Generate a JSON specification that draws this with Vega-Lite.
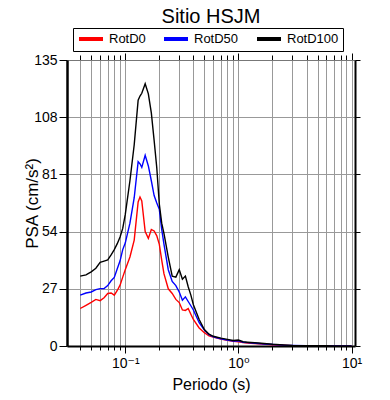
{
  "$schema": "https://vega.github.io/schema/vega-lite/v6.json",
  "width": 288,
  "height": 286,
  "autosize": "none",
  "padding": {"left": 67, "top": 60, "right": 35, "bottom": 54},
  "background": "white",
  "title": {"text": "Sitio HSJM", "fontSize": 20, "font": "Liberation Sans", "fontWeight": "normal", "color": "black", "anchor": "middle", "frame": "group", "offset": 1},
  "config": {"view": {"stroke": null}, "font": "Liberation Sans"},
  "data": {"values": [
    {"T": 0.04, "RotD0": 17.7, "RotD50": 24, "RotD100": 33},
    {"T": 0.045, "RotD0": 19.2, "RotD50": 25, "RotD100": 33.6},
    {"T": 0.05, "RotD0": 20.6, "RotD50": 25.5, "RotD100": 35},
    {"T": 0.055, "RotD0": 22, "RotD50": 26.6, "RotD100": 36.7},
    {"T": 0.06, "RotD0": 21.4, "RotD50": 27.1, "RotD100": 39.5},
    {"T": 0.065, "RotD0": 22.8, "RotD50": 27.1, "RotD100": 40.1},
    {"T": 0.07, "RotD0": 24.8, "RotD50": 28.5, "RotD100": 40.6},
    {"T": 0.075, "RotD0": 25, "RotD50": 30.8, "RotD100": 43},
    {"T": 0.08, "RotD0": 24, "RotD50": 32.4, "RotD100": 45.5},
    {"T": 0.085, "RotD0": 26.2, "RotD50": 36.5, "RotD100": 48.3},
    {"T": 0.09, "RotD0": 28.7, "RotD50": 40.2, "RotD100": 51.5},
    {"T": 0.095, "RotD0": 32.5, "RotD50": 45.5, "RotD100": 55.5},
    {"T": 0.1, "RotD0": 36, "RotD50": 48.6, "RotD100": 62},
    {"T": 0.11, "RotD0": 42, "RotD50": 58, "RotD100": 78},
    {"T": 0.12, "RotD0": 50, "RotD50": 70, "RotD100": 95},
    {"T": 0.13, "RotD0": 68, "RotD50": 87, "RotD100": 116},
    {"T": 0.135, "RotD0": 70.3, "RotD50": 86, "RotD100": 118},
    {"T": 0.14, "RotD0": 68.5, "RotD50": 84.3, "RotD100": 119.3},
    {"T": 0.15, "RotD0": 54, "RotD50": 90, "RotD100": 123.8},
    {"T": 0.16, "RotD0": 50.8, "RotD50": 85, "RotD100": 119},
    {"T": 0.17, "RotD0": 55, "RotD50": 78, "RotD100": 110},
    {"T": 0.18, "RotD0": 54.3, "RotD50": 71, "RotD100": 97},
    {"T": 0.19, "RotD0": 52, "RotD50": 67.5, "RotD100": 84},
    {"T": 0.2, "RotD0": 48, "RotD50": 64.5, "RotD100": 67},
    {"T": 0.21, "RotD0": 40.5, "RotD50": 55, "RotD100": 58},
    {"T": 0.22, "RotD0": 34, "RotD50": 48, "RotD100": 53},
    {"T": 0.24, "RotD0": 27, "RotD50": 36, "RotD100": 42},
    {"T": 0.26, "RotD0": 24.8, "RotD50": 30.5, "RotD100": 33},
    {"T": 0.28, "RotD0": 22, "RotD50": 28.5, "RotD100": 32.5},
    {"T": 0.3, "RotD0": 20.5, "RotD50": 25.5, "RotD100": 36},
    {"T": 0.32, "RotD0": 17, "RotD50": 21.6, "RotD100": 31.5},
    {"T": 0.34, "RotD0": 16.8, "RotD50": 23.2, "RotD100": 33},
    {"T": 0.36, "RotD0": 17.7, "RotD50": 21, "RotD100": 28},
    {"T": 0.38, "RotD0": 15, "RotD50": 19, "RotD100": 24},
    {"T": 0.4, "RotD0": 12.5, "RotD50": 17, "RotD100": 19.5},
    {"T": 0.45, "RotD0": 8.5, "RotD50": 11, "RotD100": 12.5},
    {"T": 0.5, "RotD0": 6.3, "RotD50": 7.5, "RotD100": 7.8},
    {"T": 0.55, "RotD0": 4.8, "RotD50": 5.3, "RotD100": 5.6},
    {"T": 0.6, "RotD0": 4.2, "RotD50": 4.3, "RotD100": 4.6},
    {"T": 0.7, "RotD0": 3.3, "RotD50": 3.4, "RotD100": 3.7},
    {"T": 0.8, "RotD0": 2.7, "RotD50": 2.8, "RotD100": 3.1},
    {"T": 0.9, "RotD0": 2.2, "RotD50": 2.3, "RotD100": 2.6},
    {"T": 1.0, "RotD0": 2.0, "RotD50": 2.4, "RotD100": 2.8},
    {"T": 1.1, "RotD0": 1.6, "RotD50": 1.8, "RotD100": 2.0},
    {"T": 1.2, "RotD0": 1.4, "RotD50": 1.6, "RotD100": 1.8},
    {"T": 1.5, "RotD0": 1.0, "RotD50": 1.2, "RotD100": 1.4},
    {"T": 2, "RotD0": 0.6, "RotD50": 0.7, "RotD100": 0.8},
    {"T": 2.5, "RotD0": 0.35, "RotD50": 0.4, "RotD100": 0.5},
    {"T": 3, "RotD0": 0.2, "RotD50": 0.25, "RotD100": 0.3},
    {"T": 4, "RotD0": 0.12, "RotD50": 0.15, "RotD100": 0.2},
    {"T": 5, "RotD0": 0.08, "RotD50": 0.1, "RotD100": 0.12},
    {"T": 6, "RotD0": 0.06, "RotD50": 0.08, "RotD100": 0.1},
    {"T": 7, "RotD0": 0.05, "RotD50": 0.06, "RotD100": 0.08},
    {"T": 8, "RotD0": 0.04, "RotD50": 0.05, "RotD100": 0.06},
    {"T": 10, "RotD0": 0.03, "RotD50": 0.04, "RotD100": 0.05}
  ]},
  "layer": [
    {
      "transform": [{"fold": ["RotD0", "RotD50", "RotD100"], "as": ["serie", "PSA"]}],
      "mark": {"type": "line", "strokeWidth": 1.4, "clip": true},
      "encoding": {
        "x": {
          "field": "T", "type": "quantitative",
          "scale": {"type": "log", "domain": [0.03057, 10.72], "nice": false},
          "axis": {
            "orient": "bottom",
            "values": [0.04, 0.05, 0.06, 0.07, 0.08, 0.09, 0.1, 0.2, 0.3, 0.4, 0.5, 0.6, 0.7, 0.8, 0.9, 1, 2, 3, 4, 5, 6, 7, 8, 9, 10],
            "labelExpr": "datum.value == 0.1 ? '10⁻¹' : datum.value == 1 ? '10⁰' : datum.value == 10 ? '10¹' : ''",
            "labelOverlap": false, "labelFlush": false,
            "grid": true, "gridColor": "#999999", "gridWidth": 1,
            "domainColor": "black", "domainWidth": 2,
            "tickColor": "black", "tickWidth": 1,
            "tickSize": {"condition": {"test": "datum.value == 0.1 || datum.value == 1 || datum.value == 10", "value": 7}, "value": 4},
            "labelFontSize": 14, "labelColor": "black", "labelPadding": 3, "labelFont": "Liberation Sans, DejaVu Sans",
            "title": "Periodo (s)", "titleFontSize": 16, "titleFontWeight": "normal", "titleColor": "black", "titlePadding": 6
          }
        },
        "y": {
          "field": "PSA", "type": "quantitative",
          "scale": {"domain": [0, 135], "nice": false},
          "axis": {
            "orient": "left",
            "values": [0, 27, 54, 81, 108, 135],
            "grid": true, "gridColor": "#999999", "gridWidth": 1,
            "domainColor": "black", "domainWidth": 2.5,
            "tickColor": "black", "tickWidth": 1, "tickSize": 8,
            "labelFontSize": 14, "labelColor": "black", "labelPadding": 2,
            "title": "PSA (cm/s²)", "titleFontSize": 17, "titleFontWeight": "normal", "titleColor": "black",
            "titleX": -35, "titleY": 143, "titleBaseline": "middle", "titleAlign": "center"
          }
        },
        "color": {
          "field": "serie", "type": "nominal",
          "scale": {"domain": ["RotD0", "RotD50", "RotD100"], "range": ["#ff0000", "#0000ff", "#000000"]},
          "legend": {
            "orient": "none", "legendX": 6, "legendY": -32,
            "direction": "horizontal", "title": null,
            "strokeColor": "black", "padding": 4,
            "symbolType": "M-1,0H3.8", "symbolSize": 100, "symbolStrokeWidth": 4,
            "labelFontSize": 13, "labelColor": "black", "labelOffset": 18, "columnPadding": 10,
            "encoding": {"legend": {"update": {"strokeWidth": {"value": 2}}}}
          }
        }
      }
    },
    {
      "data": {"values": [{"T": 1, "PSA": 0}]},
      "mark": {"type": "point", "opacity": 0},
      "encoding": {
        "x": {
          "field": "T", "type": "quantitative",
          "axis": {
            "orient": "top", "labels": false, "title": null, "grid": false,
            "values": [0.04, 0.05, 0.06, 0.07, 0.08, 0.09, 0.1, 0.2, 0.3, 0.4, 0.5, 0.6, 0.7, 0.8, 0.9, 1, 2, 3, 4, 5, 6, 7, 8, 9, 10],
            "domainColor": "#777777", "domainWidth": 1,
            "tickColor": "black", "tickWidth": 1,
            "tickSize": {"condition": {"test": "datum.value == 0.1 || datum.value == 1 || datum.value == 10", "value": 7}, "value": 5}
          }
        },
        "y": {
          "field": "PSA", "type": "quantitative",
          "axis": {
            "orient": "right", "labels": false, "title": null, "grid": false,
            "values": [0, 27, 54, 81, 108, 135],
            "domainColor": "black", "domainWidth": 2,
            "tickColor": "black", "tickWidth": 1, "tickSize": 5
          }
        }
      }
    }
  ],
  "resolve": {"axis": {"x": "independent", "y": "independent"}}
}
